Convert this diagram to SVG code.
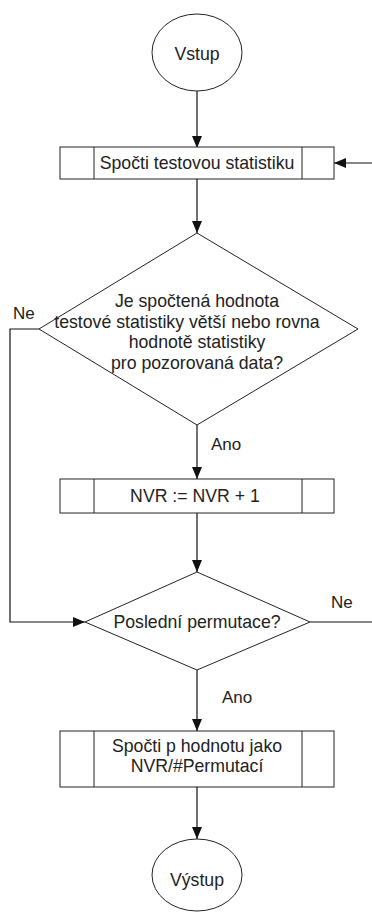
<svg xmlns="http://www.w3.org/2000/svg" width="372" height="912" viewBox="0 0 372 912">
<style>
  .shape { fill: #ffffff; stroke: #222222; stroke-width: 1; }
  .conn { fill: none; stroke: #111111; stroke-width: 1.2; }
  text { font-family: "Liberation Sans", Arial, sans-serif; font-size: 17.7px; fill: #222222; text-anchor: middle; dominant-baseline: central; }
  .lbl { text-anchor: start; font-size: 17px; }
</style>
<defs>
  <marker id="arrow" markerUnits="userSpaceOnUse" markerWidth="12" markerHeight="10" refX="12" refY="5" orient="auto">
    <path d="M0,0 L12,5 L0,10 z" fill="#111111"/>
  </marker>
</defs>
<rect width="372" height="912" fill="#ffffff"/>

<g id="connectors">
  <line class="conn" x1="197" y1="91" x2="197" y2="148" marker-end="url(#arrow)"/>
  <line class="conn" x1="197" y1="179" x2="197" y2="233" marker-end="url(#arrow)"/>
  <line class="conn" x1="197" y1="425" x2="197" y2="479" marker-end="url(#arrow)"/>
  <line class="conn" x1="197" y1="513" x2="197" y2="572" marker-end="url(#arrow)"/>
  <line class="conn" x1="197" y1="670" x2="197" y2="731" marker-end="url(#arrow)"/>
  <line class="conn" x1="197" y1="787" x2="197" y2="839" marker-end="url(#arrow)"/>
  <polyline class="conn" points="39,329 10,329 10,622 85,622" marker-end="url(#arrow)"/>
  <line class="conn" x1="310" y1="622" x2="372" y2="622"/>
  <line class="conn" x1="372" y1="163" x2="334" y2="163" marker-end="url(#arrow)"/>
  <text class="lbl" x="13" y="313">Ne</text>
  <text class="lbl" x="211" y="444">Ano</text>
  <text class="lbl" x="331" y="602">Ne</text>
  <text class="lbl" x="222" y="697">Ano</text>
</g>

<g id="start">
  <ellipse class="shape" cx="197" cy="52.5" rx="45" ry="38.5"/>
  <text x="197" y="54">Vstup</text>
</g>

<g id="compute-stat">
  <rect class="shape" x="60" y="147" width="274" height="32"/>
  <line class="shape" x1="94" y1="147" x2="94" y2="179"/>
  <line class="shape" x1="302" y1="147" x2="302" y2="179"/>
  <text x="197" y="163">Spočti testovou statistiku</text>
</g>

<g id="decision-compare">
  <polygon class="shape" points="197,233 358,329 197,425 39,329"/>
  <text x="197" y="301">Je spočtená hodnota</text>
  <text x="187" y="322">testové statistiky větší nebo rovna</text>
  <text x="197" y="342">hodnotě statistiky</text>
  <text x="197" y="363">pro pozorovaná data?</text>
</g>

<g id="increment">
  <rect class="shape" x="60" y="479" width="274" height="34"/>
  <line class="shape" x1="94" y1="479" x2="94" y2="513"/>
  <line class="shape" x1="302" y1="479" x2="302" y2="513"/>
  <text x="195" y="496">NVR := NVR + 1</text>
</g>

<g id="decision-last">
  <polygon class="shape" points="197,572 310,622 197,670 85,622"/>
  <text x="197" y="622">Poslední permutace?</text>
</g>

<g id="compute-p">
  <rect class="shape" x="60" y="731" width="274" height="56"/>
  <line class="shape" x1="94" y1="731" x2="94" y2="787"/>
  <line class="shape" x1="302" y1="731" x2="302" y2="787"/>
  <text x="197" y="746">Spočti p hodnotu jako</text>
  <text x="197" y="766">NVR/#Permutací</text>
</g>

<g id="end">
  <ellipse class="shape" cx="197" cy="875" rx="45" ry="36"/>
  <text x="197" y="880">Výstup</text>
</g>
</svg>
